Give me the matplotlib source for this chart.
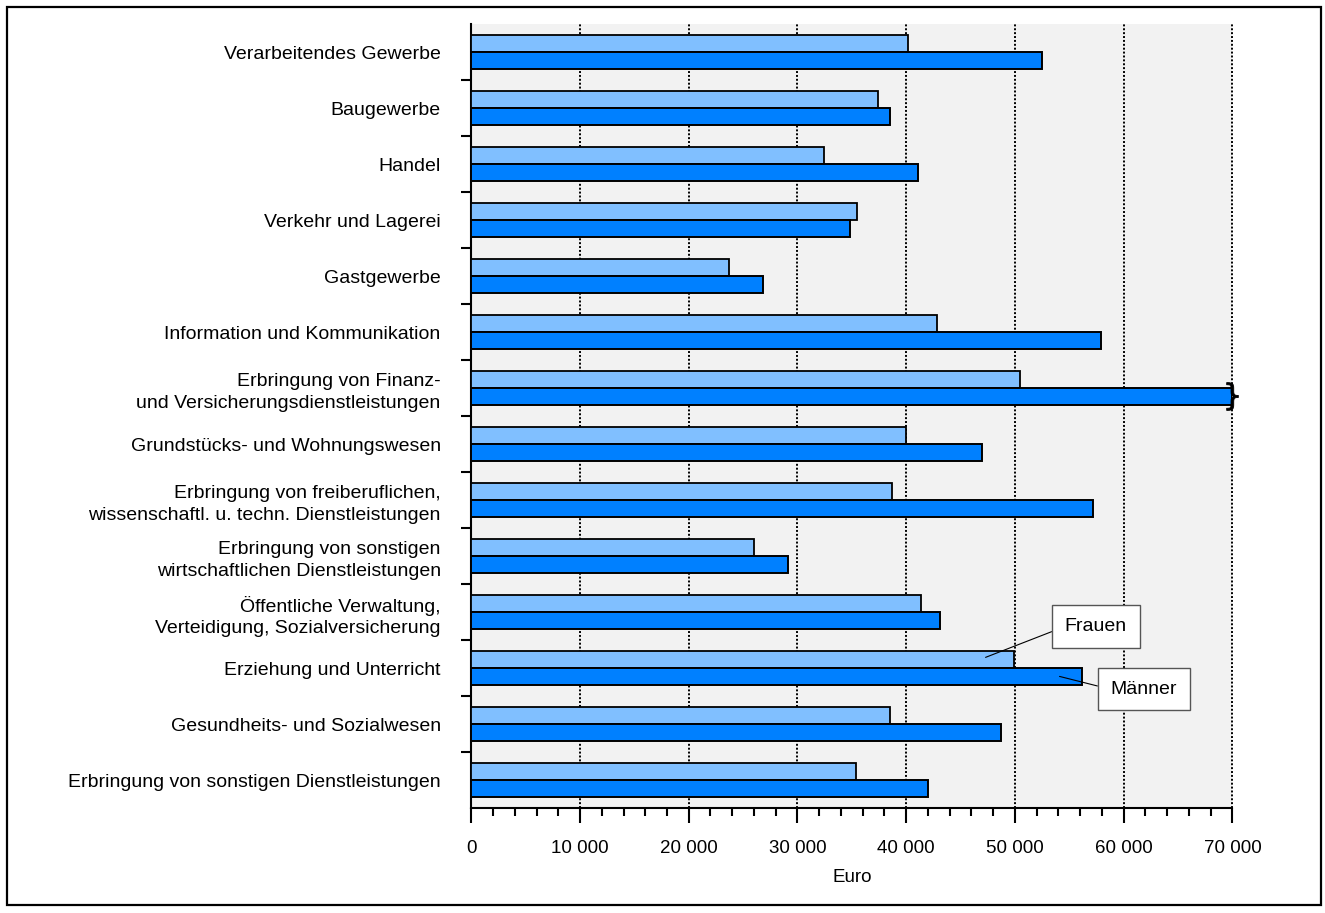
import numpy as np
import matplotlib
matplotlib.use("Agg")
import matplotlib.pyplot as plt
from matplotlib.patches import Rectangle
from matplotlib.ticker import MultipleLocator, FuncFormatter

plt.rcParams['font.family'] = ['Liberation Sans', 'DejaVu Sans']

# Wirtschaftszweige (von oben nach unten)
branchen = [
    "Verarbeitendes Gewerbe",
    "Baugewerbe",
    "Handel",
    "Verkehr und Lagerei",
    "Gastgewerbe",
    "Information und Kommunikation",
    "Erbringung von Finanz-\nund Versicherungsdienstleistungen",
    "Grundstücks- und Wohnungswesen",
    "Erbringung von freiberuflichen,\nwissenschaftl. u. techn. Dienstleistungen",
    "Erbringung von sonstigen\nwirtschaftlichen Dienstleistungen",
    "Öffentliche Verwaltung,\nVerteidigung, Sozialversicherung",
    "Erziehung und Unterricht",
    "Gesundheits- und Sozialwesen",
    "Erbringung von sonstigen Dienstleistungen",
]
frauen = [40200, 37400, 32400, 35500, 23700, 42800, 50500, 40000, 38700, 26000, 41350, 49950, 38500, 35400]
# Finanz-Männer über 70 000 -> bei Achsenende abgeschnitten
maenner = [52500, 38500, 41100, 34850, 26800, 57950, 70000, 47000, 57150, 29100, 43150, 56200, 48700, 42000]

farbe_f = "#80bfff"
farbe_m = "#0080ff"

fig = plt.figure(figsize=(13.25, 9.13), dpi=100)
ax = fig.add_axes([0.3557, 0.1150, 0.9301 - 0.3557, 0.9737 - 0.1150])
ax.set_facecolor("#f2f2f2")

y = np.arange(len(branchen))
h = 0.30
ax.barh(y - h / 2, frauen, height=h, color=farbe_f, edgecolor="black", linewidth=1.3, zorder=3)
ax.barh(y + h / 2, maenner, height=h, color=farbe_m, edgecolor="black", linewidth=1.4, zorder=3)

# Bruchzeichen am abgeschnittenen Balken
i_fin = 6
ax.plot([70000], [i_fin + h / 2], marker=r"$\}$", markersize=20, color="black",
        markeredgewidth=0.6, zorder=4, clip_on=False)

ax.set_xlim(0, 70000)
ax.set_ylim(len(branchen) - 0.5, -0.5)

# Gitter
for gx in range(10000, 70001, 10000):
    ax.axvline(gx, color="black", linestyle=(0, (1, 1)), linewidth=1.4, zorder=1, clip_on=False)

ax.xaxis.set_major_locator(MultipleLocator(10000))
ax.xaxis.set_minor_locator(MultipleLocator(2000))
ax.xaxis.set_major_formatter(FuncFormatter(lambda v, p: f"{int(v):,}".replace(",", " ")))
ax.tick_params(axis="x", which="major", length=10.8, width=1.5, direction="out", pad=12, labelsize=13.5)
ax.tick_params(axis="x", which="minor", length=5.8, width=1.5, direction="out")

ax.set_yticks(y)
ax.set_yticklabels(branchen, fontsize=14, multialignment="right", linespacing=1.35)
ax.set_yticks(np.arange(0.5, len(branchen) - 1, 1.0), minor=True)
ax.tick_params(axis="y", which="major", length=0, pad=22)
ax.tick_params(axis="y", which="minor", length=7.2, width=1.5, direction="out")

ax.set_xlabel("Euro", fontsize=13.5, labelpad=9)

for s in ["top", "right"]:
    ax.spines[s].set_visible(False)
for s in ["left", "bottom"]:
    ax.spines[s].set_linewidth(1.5)

# Beschriftung der Reihen
i_erz = 11
ax.annotate("Frauen", xy=(47300, i_erz - 0.19), xytext=(57440, 10.26),
            fontsize=14, ha="center", va="center", zorder=5,
            bbox=dict(boxstyle="square,pad=0.65", fc="white", ec="#555555", lw=1),
            arrowprops=dict(arrowstyle="-", color="black", lw=0.8, relpos=(0, 0.5),
                            shrinkA=0, shrinkB=0))
ax.annotate("Männer", xy=(54100, i_erz + 0.15), xytext=(61850, 11.38),
            fontsize=14, ha="center", va="center", zorder=5,
            bbox=dict(boxstyle="square,pad=0.65", fc="white", ec="#555555", lw=1),
            arrowprops=dict(arrowstyle="-", color="black", lw=0.8, relpos=(0, 0.5),
                            shrinkA=0, shrinkB=0))

# Rahmen um die Grafik
fig.patches.append(Rectangle((7 / 1325, 8 / 913), 1314 / 1325, 898 / 913,
                             transform=fig.transFigure, fill=False,
                             edgecolor="black", linewidth=1.6))

fig.savefig("out.png", dpi=100)
